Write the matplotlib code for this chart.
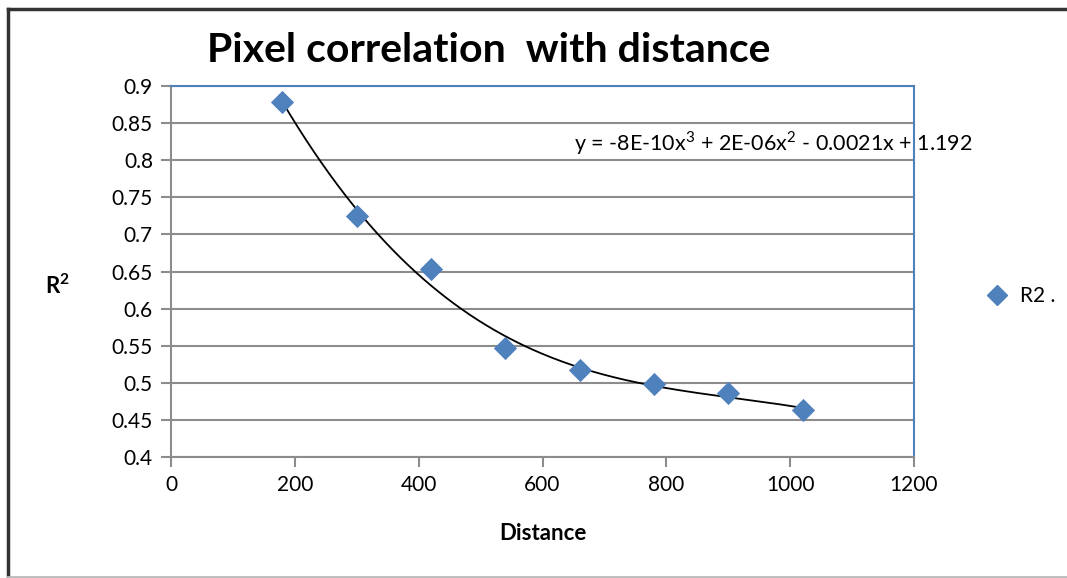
import numpy as np
import matplotlib
matplotlib.use('Agg')
import matplotlib.pyplot as plt
from matplotlib.lines import Line2D

plt.rcParams['font.family'] = ['Lato', 'DejaVu Sans']
plt.rcParams['mathtext.fontset'] = 'custom'
plt.rcParams['mathtext.rm'] = 'Lato'
plt.rcParams['mathtext.bf'] = 'Lato:bold'

# data
distance = [180, 300, 420, 540, 660, 780, 900, 1020]
r2 = [0.879, 0.725, 0.653, 0.547, 0.517, 0.499, 0.486, 0.463]
xticks = [0, 200, 400, 600, 800, 1000, 1200]
yticks = [0.4, 0.45, 0.5, 0.55, 0.6, 0.65, 0.7, 0.75, 0.8, 0.85, 0.9]
ytick_labels = ['0.4', '0.45', '0.5', '0.55', '0.6', '0.65', '0.7', '0.75', '0.8', '0.85', '0.9']
equation = r'y = -8E-10x$^{\mathrm{3}}$ + 2E-06x$^{\mathrm{2}}$ - 0.0021x + 1.192'

W, H = 1067, 578
fig = plt.figure(figsize=(W / 100, H / 100), dpi=100)
ax = fig.add_axes([171 / W, 1 - 457 / H, (914 - 171) / W, (457 - 86) / H])

blue = '#4F81BD'
grid = '#8C8C8C'

# cubic trend line, as Excel's polynomial trendline
coef = np.polyfit(distance, r2, 3)
xs = np.linspace(distance[0], distance[-1], 200)
ax.plot(xs, np.polyval(coef, xs), color='black', lw=1.3, zorder=3)
ax.scatter(distance, r2, marker='D', s=140, color=blue, zorder=4, linewidths=0)

ax.set_xlim(0, 1200)
ax.set_ylim(0.4, 0.9)
ax.set_xticks(xticks)
ax.set_yticks(yticks)
ax.set_yticklabels(ytick_labels)
ax.tick_params(labelsize=15, direction='out', length=7, width=1.5, color=grid, pad=6)
ax.yaxis.grid(True, color=grid, lw=1.5)
ax.set_axisbelow(True)
for s in ['left', 'bottom']:
    ax.spines[s].set_color(grid)
    ax.spines[s].set_linewidth(1.5)
for s in ['top', 'right']:
    ax.spines[s].set_color(blue)
    ax.spines[s].set_linewidth(1.5)

ax.set_xlabel('Distance', fontsize=16, fontweight='bold', labelpad=20)
ax.text(-0.17, 0.46, r'R$^{\mathbf{2}}$', transform=ax.transAxes, fontsize=16, fontweight='bold',
        ha='left', va='center')

ax.text(1.079, 0.845, equation, transform=ax.transAxes, fontsize=15.5, ha='right', va='center',
        zorder=5, clip_on=False)

fig.text(489 / W, 1 - 50 / H, 'Pixel correlation  with distance', fontsize=29.5,
         fontweight='bold', ha='center', va='center')

fig.legend(handles=[Line2D([], [], marker='D', ls='', color=blue, markersize=10)],
           labels=['R2 .'], loc='center left', bbox_to_anchor=(966 / W, 1 - 296 / H),
           frameon=False, fontsize=15, handletextpad=0.1, borderpad=0)

# outer chart frame
fig.add_artist(Line2D([8 / W, 8 / W], [0, 1 - 9 / H], color='#333333', lw=2.5))
fig.add_artist(Line2D([8 / W, 1], [1 - 9 / H, 1 - 9 / H], color='#333333', lw=2.5))
fig.add_artist(Line2D([8 / W, 1], [1 / H, 1 / H], color='#BBBBBB', lw=2))

fig.savefig('out.png', dpi=100)
